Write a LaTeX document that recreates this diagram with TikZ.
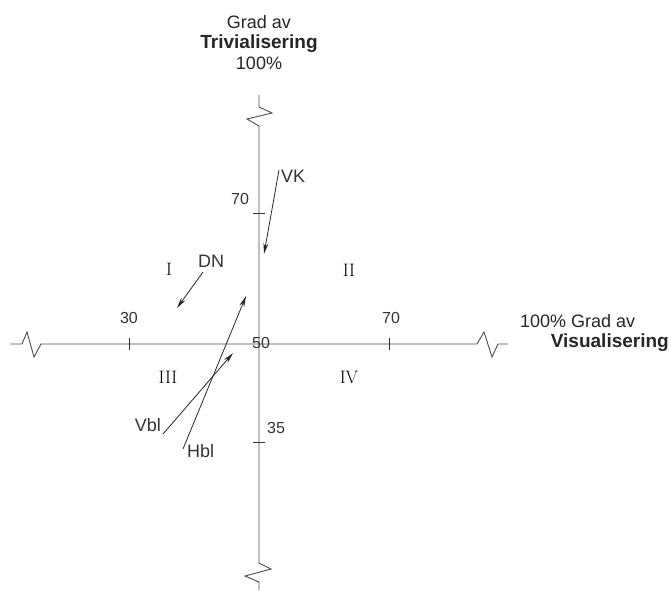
\documentclass[tikz,border=0pt]{standalone}
\usepackage{fontspec}
\newfontfamily\arial{Liberation Sans}
\usetikzlibrary{arrows.meta}
\begin{document}
\begin{tikzpicture}[x=1pt,y=-1pt,
  axisline/.style={draw=black!70,line width=0.9pt,line join=miter},
  tickline/.style={draw=black!80,line width=0.8pt},
  pointer/.style={draw=black!85,line width=0.8pt,-{Stealth[length=11pt,width=5pt]}},
  ttl/.style={inner sep=0pt,font=\arial\fontsize{18}{20}\selectfont,text=black!85},
  ttlb/.style={inner sep=0pt,font=\arial\bfseries\fontsize{19}{21}\selectfont,text=black!85},
  num/.style={inner sep=0pt,font=\arial\fontsize{16}{18}\selectfont,text=black!80},
  lbl/.style={inner sep=0pt,font=\arial\fontsize{18}{20}\selectfont,text=black!80},
  quad/.style={inner sep=0pt,font=\rmfamily\fontsize{18}{20}\selectfont,text=black}]
\useasboundingbox (0,0) rectangle (671,590);
% axes with break marks
\draw[axisline] (259,95) -- (259,107) -- (272,113) -- (247,119) -- (259,126)
  -- (259,563) -- (271,569) -- (245,576) -- (259,582) -- (259,590);
\draw[axisline] (10,344) -- (22,344) -- (27,332) -- (34,357) -- (41,344)
  -- (477,344) -- (484,332) -- (492,357) -- (498,344) -- (508,344);
% ticks
\draw[tickline] (129,338) -- (129,350);
\draw[tickline] (389,338) -- (389,350);
\draw[tickline] (253,213) -- (265,213);
\draw[tickline] (253,442) -- (265,442);
% titles
\node[ttl,anchor=base] (t1) at (259,28) {Grad av};
\node[ttlb,anchor=base] (t2) at (259,48) {Trivialisering};
\node[ttl,anchor=base] (t3) at (259,69) {100\%};
\node[ttl,anchor=base west] (r1) at (520,327) {100\% Grad av};
\node[ttlb,anchor=base east] (r2) at (669,347) {Visualisering};
% tick labels
\node[num,anchor=base] (n30) at (129,323) {30};
\node[num,anchor=base] (n70h) at (391,323) {70};
\node[num,anchor=base] (n70v) at (240,204) {70};
\node[num,anchor=base] (n50) at (261,348) {50};
\node[num,anchor=base] (n35) at (276,433) {35};
% quadrants
\node[quad,anchor=base] (q1) at (169,275) {I};
\node[quad,anchor=base] (q2) at (349,276) {II};
\node[quad,anchor=base] (q3) at (168,383) {III};
\node[quad,anchor=base] (q4) at (349,383) {IV};
% labels
\node[lbl,anchor=base west] (vk) at (281,182) {VK};
\node[lbl,anchor=base] (dn) at (211,267) {DN};
\node[lbl,anchor=base east] (vbl) at (161,431) {Vbl};
\node[lbl,anchor=base west] (hbl) at (187,457) {Hbl};
% arrow end points
\coordinate (vks) at (279,170);
\coordinate (vke) at (264,254);
\coordinate (dns) at (203,272);
\coordinate (dne) at (177,308);
\coordinate (vbs) at (163,434);
\coordinate (vbe) at (233,353);
\coordinate (hbs) at (183,449);
\coordinate (hbe) at (246,296);
\draw[pointer] (vks) -- (vke);
\draw[pointer] (dns) -- (dne);
\draw[pointer] (vbs) -- (vbe);
\draw[pointer] (hbs) -- (hbe);
\end{tikzpicture}
\end{document}
